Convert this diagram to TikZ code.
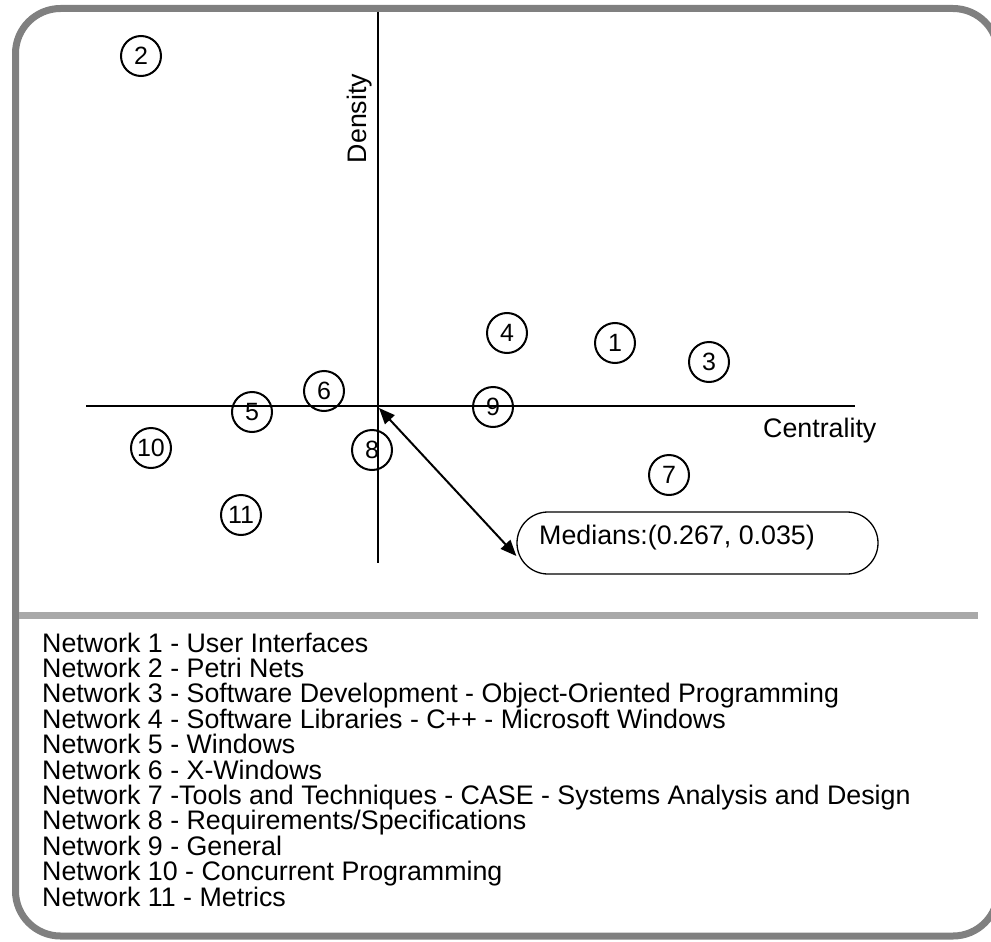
\documentclass[tikz,border=0pt]{standalone}
\usepackage{fontspec}
\setmainfont{Liberation Sans}
\usetikzlibrary{arrows.meta}
\definecolor{bordergray}{HTML}{808080}
\definecolor{sepgray}{HTML}{A9A9A9}
\begin{document}
\begin{tikzpicture}[x=1pt,y=-1pt,
  net/.style={circle, draw, line width=2pt, minimum size=40pt, inner sep=0pt, font=\fontsize{25}{25}\selectfont},
  lbl/.style={font=\fontsize{26.8}{26.8}\selectfont, inner sep=0pt},
  leg/.style={font=\fontsize{26.8}{26.8}\selectfont, inner sep=0pt, anchor=base west},
  tip/.style={{Triangle[length=16pt,width=13pt]}-{Triangle[length=16pt,width=13pt]}}]
\useasboundingbox (0,0) rectangle (991,942);
\begin{scope}
\clip (0,0) rectangle (991,942);
\draw[bordergray, line width=7pt, rounded corners=45pt] (15.5,8.5) rectangle (998,936);
\end{scope}
\draw[sepgray, line width=7pt] (19,615.5) -- (978,615.5);
% axes
\draw[line width=2pt] (378,12) -- (378,563);
\draw[line width=1.3pt] (86,406) -- (855,406);
\node[lbl, rotate=90, anchor=base] (dens) at (366,118.5) {Density};
\node[lbl, anchor=base west] (cent) at (763,437) {Centrality};
% networks
\node[net] (n1) at (615,343) {1};
\node[net] (n2) at (141,56) {2};
\node[net] (n3) at (709,362) {3};
\node[net] (n4) at (507,333) {4};
\node[net] (n5) at (252,412) {5};
\node[net] (n6) at (324,391) {6};
\node[net] (n7) at (669,475) {7};
\node[net] (n8) at (372,450) {8};
\node[net] (n9) at (493,407) {9};
\node[net] (n10) at (151,448) {10};
\node[net] (n11) at (241,515) {11};
% medians
\node[draw, line width=1.3pt, rounded corners=31pt, minimum width=361pt, minimum height=62pt, inner sep=0pt] (med) at (697.5,543) {};
\node[lbl, anchor=base west] (medtxt) at (539,544) {Medians:(0.267, 0.035)};
\coordinate (orig) at (379,408);
\draw[tip, line width=2pt] (orig) -- ([yshift=-13pt]med.west);
% legend
\foreach \t [count=\i] in {
  {Network 1 - User Interfaces},
  {Network 2 - Petri Nets},
  {Network 3 - Software Development - Object-Oriented Programming},
  {Network 4 - Software Libraries - C++ - Microsoft Windows},
  {Network 5 - Windows},
  {Network 6 - X-Windows},
  {Network 7 -Tools and Techniques - CASE - Systems Analysis and Design},
  {Network 8 - Requirements/Specifications},
  {Network 9 - General},
  {Network 10 - Concurrent Programming},
  {Network 11 - Metrics}}
  \node[leg] (leg\i) at (42,{652+25.4*(\i-1)}) {\t};
\end{tikzpicture}
\end{document}
